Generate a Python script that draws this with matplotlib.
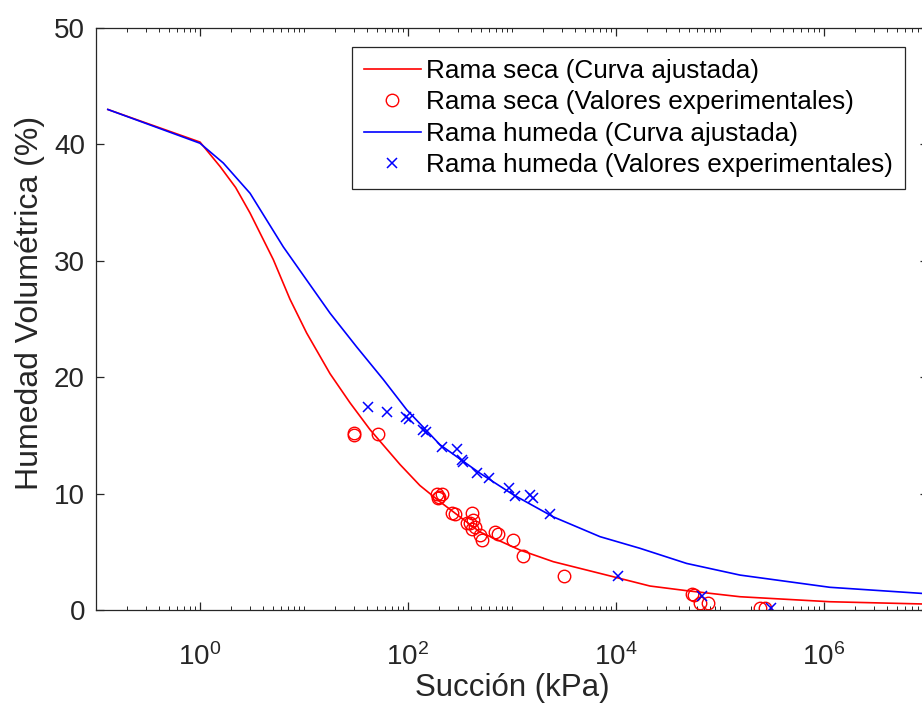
import matplotlib
matplotlib.use("Agg")
import matplotlib.pyplot as plt
import numpy as np
from matplotlib.ticker import FixedLocator, LogLocator, LogFormatterSciNotation, NullFormatter

plt.rcParams['font.family'] = ['Liberation Sans', 'DejaVu Sans']
plt.rcParams['mathtext.fontset'] = 'custom'
plt.rcParams['mathtext.rm'] = 'Liberation Sans'
plt.rcParams['mathtext.it'] = 'Liberation Sans'
plt.rcParams['mathtext.default'] = 'regular'

# curva ajustada, rama seca
succion_seca = [0.13, 1.0, 1.56, 2.2, 3.03, 5.07, 7.33, 10.6, 17.8, 27.7, 43.1, 83.8, 130, 203, 492,
                1194, 2496, 8140, 21200, 47800, 155700, 1.14e6, 8.6e6]
humedad_seca = [43.0, 40.2, 38.1, 36.3, 34.1, 30.1, 26.7, 23.8, 20.3, 17.8, 15.5, 12.5, 10.7, 9.3, 6.7,
                5.15, 4.15, 3.0, 2.06, 1.66, 1.14, 0.71, 0.52]

# curva ajustada, rama humeda
succion_humeda = [0.13, 1.0, 1.675, 3.03, 6.32, 10.6, 17.8, 32.1, 57.9, 97.2, 203, 492, 1030,
                  2496, 7020, 17000, 47800, 155700, 1.14e6, 8.6e6]
humedad_humeda = [43.0, 40.1, 38.4, 35.8, 31.2, 28.35, 25.5, 22.6, 19.8, 17.2, 14.2, 11.75, 9.9,
                  8.0, 6.3, 5.3, 4.0, 3.0, 1.95, 1.43]

# valores experimentales, rama seca
exp_seca_x = [30.3, 30.3, 51.8, 189, 200, 211, 196, 263, 283, 367, 410, 419, 441, 395, 410,
              512, 492, 687, 739, 1030, 1268, 3162, 53400, 56200, 64200, 77200, 242000, 271000]
exp_seca_y = [15.2, 15.05, 15.1, 10.0, 9.7, 9.95, 9.6, 8.3, 8.25, 7.45, 8.3, 7.75, 7.15, 7.45, 7.0,
              6.05, 6.45, 6.7, 6.5, 6.05, 4.65, 2.88, 1.37, 1.29, 0.6, 0.58, 0.2, 0.2]

# valores experimentales, rama humeda
exp_hum_x = [41.5, 63.2, 95.7, 103, 140, 149, 211, 294, 328, 340, 464, 605, 942, 1069, 1489,
             1581, 2319, 10380, 67600, 309000]
exp_hum_y = [17.45, 17.0, 16.6, 16.4, 15.5, 15.3, 14.0, 13.8, 12.9, 12.75, 11.8, 11.3, 10.45,
             9.8, 9.9, 9.6, 8.25, 2.95, 1.23, 0.2]

xticks = [1e0, 1e2, 1e4, 1e6]
yticks = [0, 10, 20, 30, 40, 50]

W, H = 922, 703
fig = plt.figure(figsize=(W / 100, H / 100), dpi=100)
ax = fig.add_axes([96 / W, (H - 610) / H, 832 / W, 582 / H])

ax.plot(succion_seca, humedad_seca, '-', color='red', lw=1.2, label='Rama seca (Curva ajustada)')
ax.plot(exp_seca_x, exp_seca_y, 'o', mfc='none', mec='red', ms=9, mew=1,
        label='Rama seca (Valores experimentales)')
ax.plot(succion_humeda, humedad_humeda, '-', color='blue', lw=1.2, label='Rama humeda (Curva ajustada)')
ax.plot(exp_hum_x, exp_hum_y, 'x', color='blue', ms=7.5, mew=1.1,
        label='Rama humeda (Valores experimentales)')

ax.set_xscale('log')
ax.set_xlim(0.1, 1e7)
ax.set_ylim(0, 50)
ax.set_yticks(yticks)
ax.xaxis.set_major_locator(FixedLocator(xticks))
ax.xaxis.set_major_formatter(LogFormatterSciNotation(base=10))
ax.xaxis.set_minor_locator(LogLocator(base=10, subs=np.arange(1, 10), numticks=40))
ax.xaxis.set_minor_formatter(NullFormatter())

gris = '#262626'
for s in ax.spines.values():
    s.set_color(gris)
    s.set_linewidth(0.9)
ax.tick_params(which='both', direction='in', top=True, right=True, colors=gris,
               labelcolor=gris, labelsize=20)
ax.tick_params(which='major', length=6, width=0.9)
ax.tick_params(which='minor', length=3, width=0.7)
ax.tick_params(axis='x', which='major', pad=24)
ax.tick_params(axis='y', which='major', pad=8)

ax.set_xlabel('Succión (kPa)', fontsize=22.5, color=gris, labelpad=1)
ax.set_ylabel('Humedad Volumétrica (%)', fontsize=23, color=gris)
ax.yaxis.set_label_coords(-0.061, 0.527)

leg = ax.legend(loc='upper left', bbox_to_anchor=(352 / W, 1 - 47 / H),
                bbox_transform=fig.transFigure, fontsize=18.8, frameon=True, fancybox=False,
                framealpha=1, edgecolor=gris, handlelength=2.2, handletextpad=0.2,
                labelspacing=0.29, borderpad=0.45, borderaxespad=0)
leg.get_frame().set_linewidth(0.9)

fig.savefig('out.png', dpi=100)
